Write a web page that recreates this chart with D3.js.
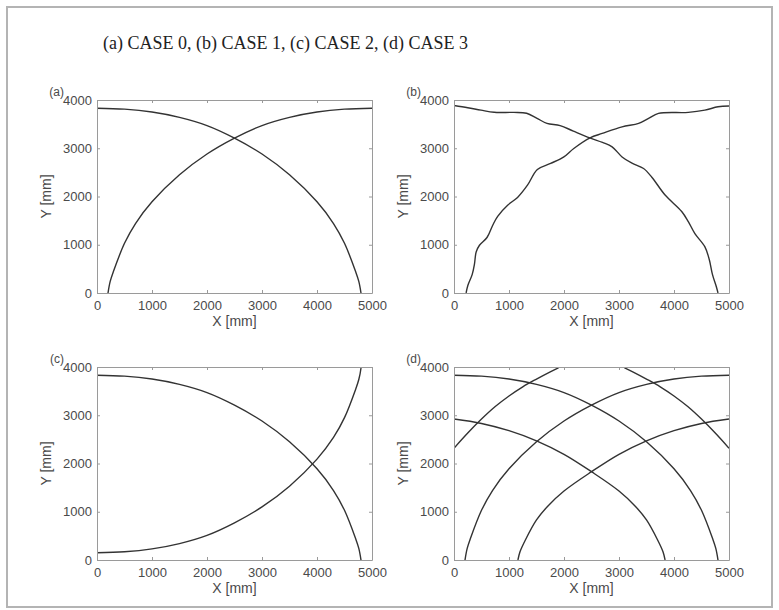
<!DOCTYPE html>
<html>
<head>
<meta charset="utf-8">
<script src="https://cdn.jsdelivr.net/npm/d3@7"></script>
<style>
  html, body { margin: 0; padding: 0; background: #fff; }
  svg { display: block; }
</style>
</head>
<body>
<svg id="fig" width="779" height="610"></svg>
<script>
// Axis ticks and labels
const xTicks = [0, 1000, 2000, 3000, 4000, 5000];
const yTicks = [0, 1000, 2000, 3000, 4000];
const panelLabels = ["(a)", "(b)", "(c)", "(d)"];
const titleText = "(a) CASE 0, (b) CASE 1, (c) CASE 2, (d) CASE 3";
const xLabel = "X [mm]";
const yLabel = "Y [mm]";

// CASE 0: two smooth arcs, [X mm, Y mm]
const case0Desc = [[0,3830],[500,3810],[1000,3750],[1500,3640],[2000,3470],[2500,3210],[3000,2880],[3500,2450],[4000,1890],[4300,1440],[4500,1030],[4700,450],[4760,240],[4800,0]];
const case0Asc  = [[200,0],[240,240],[300,450],[500,1030],[700,1440],[1000,1890],[1500,2450],[2000,2880],[2500,3210],[3000,3470],[3500,3640],[4000,3750],[4500,3810],[5000,3830]];

// CASE 1: wavy arcs
const case1Desc = [[0,3885],[250,3840],[490,3790],[730,3745],[1090,3743],[1320,3725],[1510,3620],[1690,3515],[1930,3470],[2170,3355],[2470,3215],[2700,3120],[2875,3030],[3056,2820],[3236,2690],[3447,2580],[3597,2400],[3838,2030],[4140,1690],[4260,1480],[4380,1230],[4560,960],[4640,700],[4700,380],[4770,130],[4800,0]];
const case1Asc  = [[220,0],[253,160],[330,380],[372,600],[403,850],[463,990],[600,1150],[704,1405],[794,1590],[975,1819],[1155,1980],[1336,2234],[1516,2560],[1757,2685],[1998,2822],[2178,2996],[2473,3216],[2695,3307],[3056,3444],[3357,3514],[3538,3618],[3718,3722],[4260,3743],[4561,3790],[4801,3859],[5000,3875]];

// CASE 2
const case2Desc = [[0,3830],[500,3810],[1000,3750],[1500,3640],[2000,3470],[2500,3210],[3000,2880],[3500,2450],[4000,1890],[4300,1440],[4500,1030],[4700,450],[4760,240],[4800,0]];
const case2Asc  = [[0,150],[500,170],[1000,230],[1500,340],[2000,510],[2500,770],[3000,1100],[3500,1530],[4000,2090],[4300,2540],[4500,2950],[4700,3530],[4760,3740],[4800,3980],[4806,4100]];

// CASE 3: six arcs
const case3Arc1 = [[0,3830],[500,3810],[1000,3750],[1500,3640],[2000,3470],[2500,3210],[3000,2880],[3500,2450],[4000,1890],[4300,1440],[4500,1030],[4700,450],[4760,240],[4800,0]];
const case3Arc2 = [[200,0],[240,240],[300,450],[500,1030],[700,1440],[1000,1890],[1500,2450],[2000,2880],[2500,3210],[3000,3470],[3500,3640],[4000,3750],[4500,3810],[5000,3830]];
const case3Arc3 = [[0,2921],[500,2830],[1000,2680],[1500,2470],[2000,2190],[2500,1830],[3000,1430],[3300,1110],[3500,830],[3700,420],[3800,170],[3838,0]];
const case3Arc4 = [[1162,0],[1200,170],[1300,420],[1500,830],[1700,1110],[2000,1430],[2500,1830],[3000,2190],[3500,2470],[4000,2680],[4500,2830],[5000,2921]];
const case3Arc5 = [[0,2316],[250,2630],[500,2920],[750,3180],[1000,3400],[1250,3590],[1500,3750],[1750,3900],[1900,3985],[2000,4040]];
const case3Arc6 = [[3000,4040],[3100,3985],[3250,3900],[3500,3750],[3750,3590],[4000,3400],[4250,3180],[4500,2920],[4750,2630],[5000,2316]];

const svg = d3.select("#fig");

// outer figure frame
svg.append("rect")
  .attr("x", 7).attr("y", 7)
  .attr("width", 765).attr("height", 600)
  .attr("fill", "none")
  .attr("stroke", "#b4b4b4")
  .attr("stroke-width", 2);

svg.append("text")
  .attr("x", 103).attr("y", 49)
  .attr("font-family", "'Liberation Serif', 'Times New Roman', serif")
  .attr("font-size", 18)
  .attr("fill", "#222")
  .text(titleText);

const plotW = 275, plotH = 193;
const panels = [
  { left: 97,  top: 100, series: [case0Desc, case0Asc] },
  { left: 454, top: 100, series: [case1Desc, case1Asc] },
  { left: 97,  top: 367, series: [case2Desc, case2Asc] },
  { left: 454, top: 367, series: [case3Arc1, case3Arc2, case3Arc3, case3Arc4, case3Arc5, case3Arc6] }
];

const x = d3.scaleLinear().domain([0, 5000]).range([0, plotW]);
const y = d3.scaleLinear().domain([0, 4000]).range([plotH, 0]);
const line = d3.line()
  .x(d => x(d[0])).y(d => y(d[1]))
  .curve(d3.curveCatmullRom.alpha(0.5));

const axisColor = "#9a9a9a";
const labelColor = "#4a4a4a";
const tickFont = "'Liberation Sans', Arial, sans-serif";
const fmt = d3.format("d");

function styleAxis(sel) {
  sel.select(".domain").attr("stroke", axisColor);
  sel.selectAll(".tick line").attr("stroke", axisColor);
  sel.selectAll(".tick text")
    .attr("fill", labelColor)
    .attr("font-family", tickFont)
    .attr("font-size", 13);
}

panels.forEach((p, i) => {
  const g = svg.append("g").attr("transform", `translate(${p.left},${p.top})`);

  g.append("clipPath").attr("id", "clip" + i)
    .append("rect").attr("width", plotW).attr("height", plotH);

  g.append("g").attr("clip-path", `url(#clip${i})`)
    .selectAll("path")
    .data(p.series)
    .join("path")
    .attr("d", line)
    .attr("fill", "none")
    .attr("stroke", "#333")
    .attr("stroke-width", 1.4);

  g.append("g").attr("transform", `translate(0,${plotH})`)
    .call(d3.axisBottom(x).tickValues(xTicks).tickFormat(fmt).tickSizeInner(-3).tickSizeOuter(0).tickPadding(8))
    .call(styleAxis);
  g.append("g")
    .call(d3.axisTop(x).tickValues(xTicks).tickSizeInner(-3).tickSizeOuter(0).tickFormat(""))
    .call(styleAxis);
  g.append("g")
    .call(d3.axisLeft(y).tickValues(yTicks).tickFormat(fmt).tickSizeInner(-3).tickSizeOuter(0).tickPadding(5))
    .call(styleAxis);
  g.append("g").attr("transform", `translate(${plotW},0)`)
    .call(d3.axisRight(y).tickValues(yTicks).tickSizeInner(-3).tickSizeOuter(0).tickFormat(""))
    .call(styleAxis);

  g.append("text")
    .attr("x", plotW / 2).attr("y", plotH + 33)
    .attr("text-anchor", "middle")
    .attr("font-family", tickFont).attr("font-size", 14)
    .attr("fill", labelColor)
    .text(xLabel);

  g.append("text")
    .attr("transform", `translate(-46,${plotH / 2}) rotate(-90)`)
    .attr("text-anchor", "middle")
    .attr("font-family", tickFont).attr("font-size", 14)
    .attr("fill", labelColor)
    .text(yLabel);

  g.append("text")
    .attr("x", -33).attr("y", -4)
    .attr("text-anchor", "end")
    .attr("font-family", tickFont).attr("font-size", 12)
    .attr("fill", labelColor)
    .text(panelLabels[i]);
});
</script>
</body>
</html>
